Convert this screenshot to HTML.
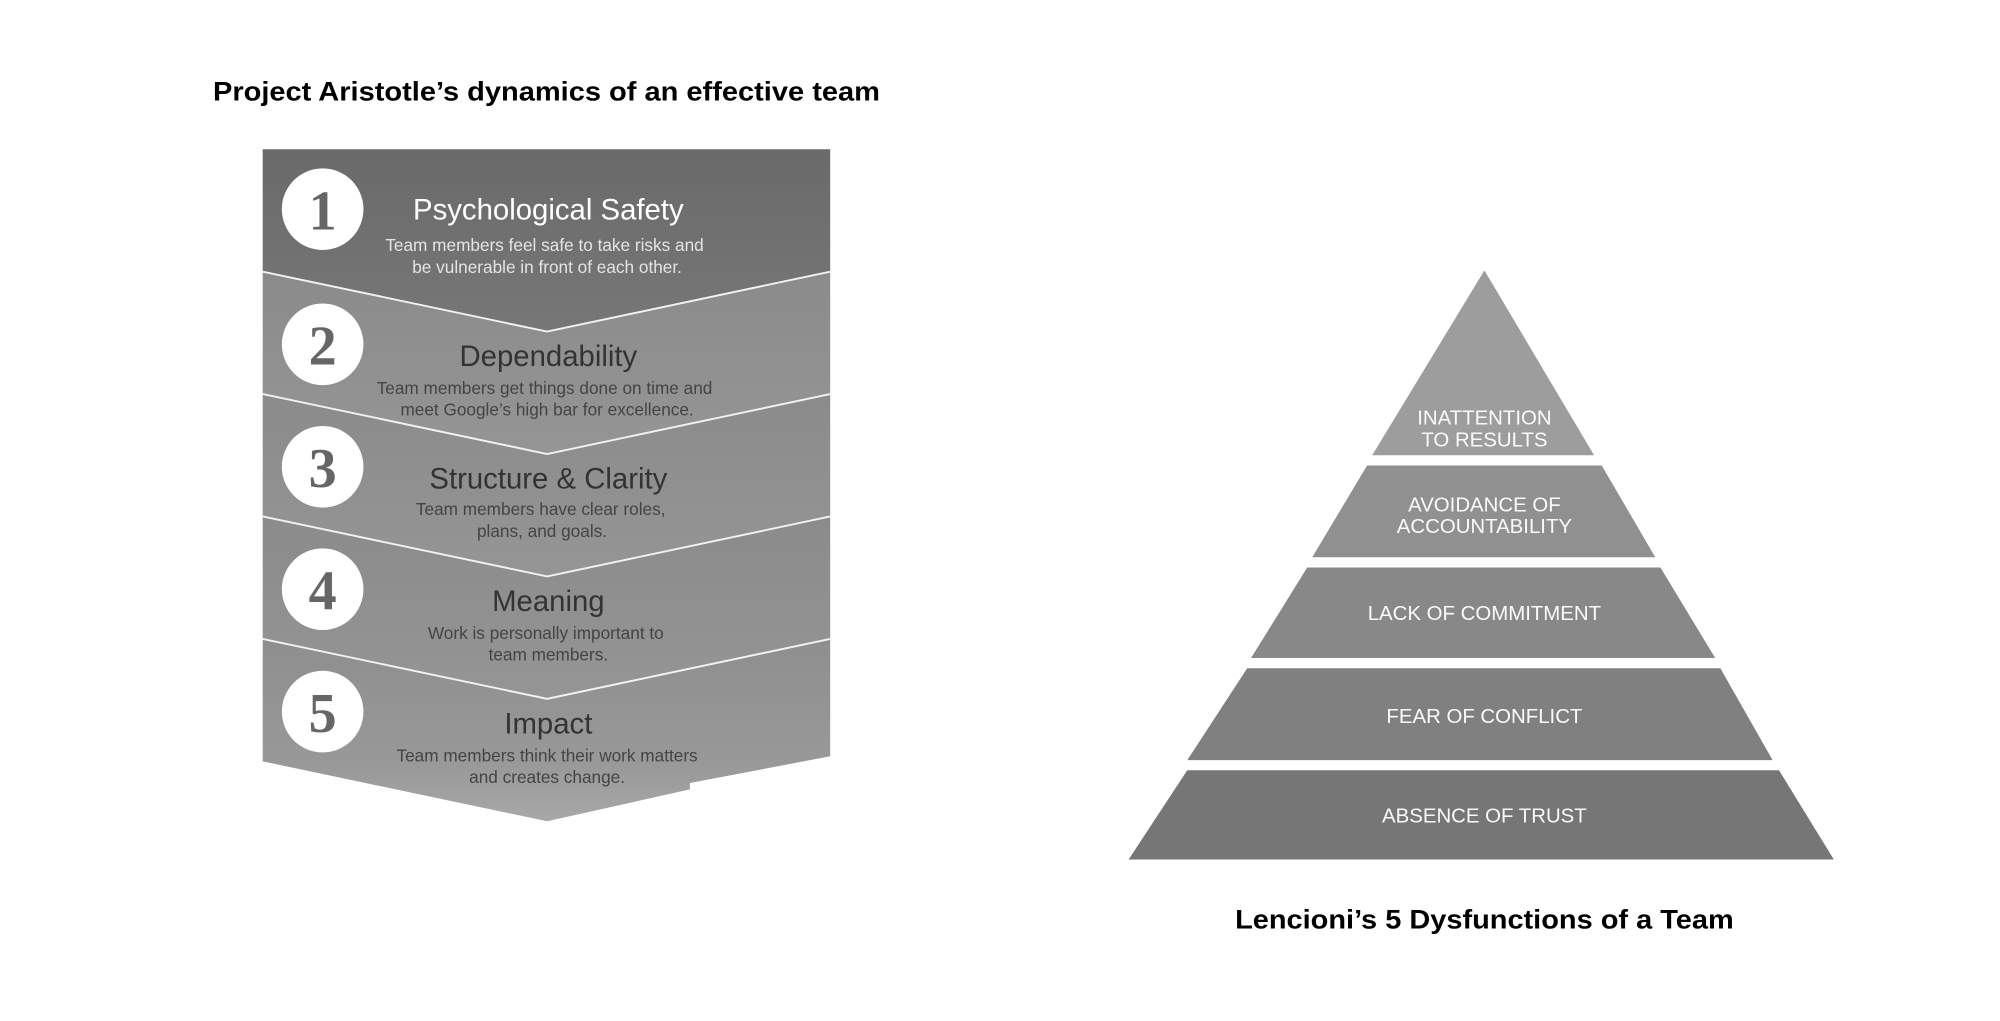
<!DOCTYPE html>
<html><head><meta charset="utf-8"><style>
html,body{margin:0;padding:0;background:#fff;}
svg{display:block;}
</style></head><body>
<svg width="2000" height="1021" viewBox="0 0 1568.3 800.6" preserveAspectRatio="none" xmlns="http://www.w3.org/2000/svg">
<defs>
<linearGradient id="g1" x1="0" y1="0" x2="0" y2="1"><stop offset="0" stop-color="#6a6a6a"/><stop offset="1" stop-color="#777"/></linearGradient>
<linearGradient id="g2" x1="0" y1="0" x2="0" y2="1"><stop offset="0" stop-color="#8b8b8b"/><stop offset="1" stop-color="#959595"/></linearGradient>
<linearGradient id="g5" x1="0" y1="0" x2="0" y2="1"><stop offset="0" stop-color="#8e8e8e"/><stop offset="0.7" stop-color="#999"/><stop offset="1" stop-color="#a8a8a8"/></linearGradient>
</defs>
<rect width="1568.3" height="800.6" fill="#fff"/>
<text x="167" y="79" font-family="Liberation Sans, Arial, sans-serif" font-weight="bold" font-size="21" fill="#000" textLength="523" lengthAdjust="spacingAndGlyphs">Project Aristotle’s dynamics of an effective team</text>

<polygon points="206,117 651,117 651,213 429,260 206,213" fill="url(#g1)"/>
<polygon points="206,213 429,260 651,213 651,309 429,356 206,309" fill="url(#g2)"/>
<polygon points="206,309 429,356 651,309 651,405 429,452 206,405" fill="url(#g2)"/>
<polygon points="206,405 429,452 651,405 651,501 429,548 206,501" fill="url(#g2)"/>
<polygon points="206,501 429,548 651,501 651,593 541,614 541,619 429,644 206,597" fill="url(#g5)"/>
<g stroke="#f2f2f2" stroke-width="1.5" fill="none">
<polyline points="206,213 429,260 651,213"/>
<polyline points="206,309 429,356 651,309"/>
<polyline points="206,405 429,452 651,405"/>
<polyline points="206,501 429,548 651,501"/>
</g>
<g fill="#fff">
<circle cx="253" cy="164" r="32"/><circle cx="253" cy="270" r="32"/><circle cx="253" cy="366" r="32"/><circle cx="253" cy="462" r="32"/><circle cx="253" cy="558" r="32"/>
</g>
<g font-family="Liberation Serif, serif" font-weight="bold" font-size="44" fill="#666" text-anchor="middle">
<text x="253" y="180">1</text><text x="253" y="286">2</text><text x="253" y="382">3</text><text x="253" y="478">4</text><text x="253" y="574">5</text>
</g>
<g font-family="Liberation Sans, Arial, sans-serif" text-anchor="middle">
<text x="430" y="172" font-size="23" fill="#fff">Psychological Safety</text>
<text x="427" y="197" font-size="13.5" fill="#e4e4e4">Team members feel safe to take risks and</text>
<text x="429" y="214" font-size="13.5" fill="#e4e4e4">be vulnerable in front of each other.</text>
<text x="430" y="287" font-size="23" fill="#333">Dependability</text>
<text x="427" y="309" font-size="13.5" fill="#444">Team members get things done on time and</text>
<text x="429" y="326" font-size="13.5" fill="#444">meet Google’s high bar for excellence.</text>
<text x="430" y="383" font-size="23" fill="#333">Structure &amp; Clarity</text>
<text x="424" y="404" font-size="13.5" fill="#444">Team members have clear roles,</text>
<text x="425" y="421" font-size="13.5" fill="#444">plans, and goals.</text>
<text x="430" y="479" font-size="23" fill="#333">Meaning</text>
<text x="428" y="501" font-size="13.5" fill="#444">Work is personally important to</text>
<text x="430" y="518" font-size="13.5" fill="#444">team members.</text>
<text x="430" y="575" font-size="23" fill="#333">Impact</text>
<text x="429" y="597" font-size="13.5" fill="#444">Team members think their work matters</text>
<text x="429" y="614" font-size="13.5" fill="#444">and creates change.</text>
</g>

<polygon points="1164,212 1250,357 1076,357" fill="#9d9d9d"/>
<polygon points="1072,365 1256,365 1298,437 1029,437" fill="#909090"/>
<polygon points="1025,445 1302,445 1345,516 981,516" fill="#888"/>
<polygon points="978,524 1349,524 1390,596 931,596" fill="#808080"/>
<polygon points="931,604 1395,604 1438,674 885,674" fill="#767676"/>
<g font-family="Liberation Sans, Arial, sans-serif" font-size="16" fill="#fafafa" text-anchor="middle">
<text x="1164" y="333">INATTENTION</text>
<text x="1164" y="350">TO RESULTS</text>
<text x="1164" y="401">AVOIDANCE OF</text>
<text x="1164" y="418">ACCOUNTABILITY</text>
<text x="1164" y="486">LACK OF COMMITMENT</text>
<text x="1164" y="567">FEAR OF CONFLICT</text>
<text x="1164" y="645">ABSENCE OF TRUST</text>
</g>
<text x="1164" y="728" font-family="Liberation Sans, Arial, sans-serif" font-weight="bold" font-size="21" fill="#000" text-anchor="middle" textLength="391" lengthAdjust="spacingAndGlyphs">Lencioni’s 5 Dysfunctions of a Team</text>
</svg>
</body></html>
